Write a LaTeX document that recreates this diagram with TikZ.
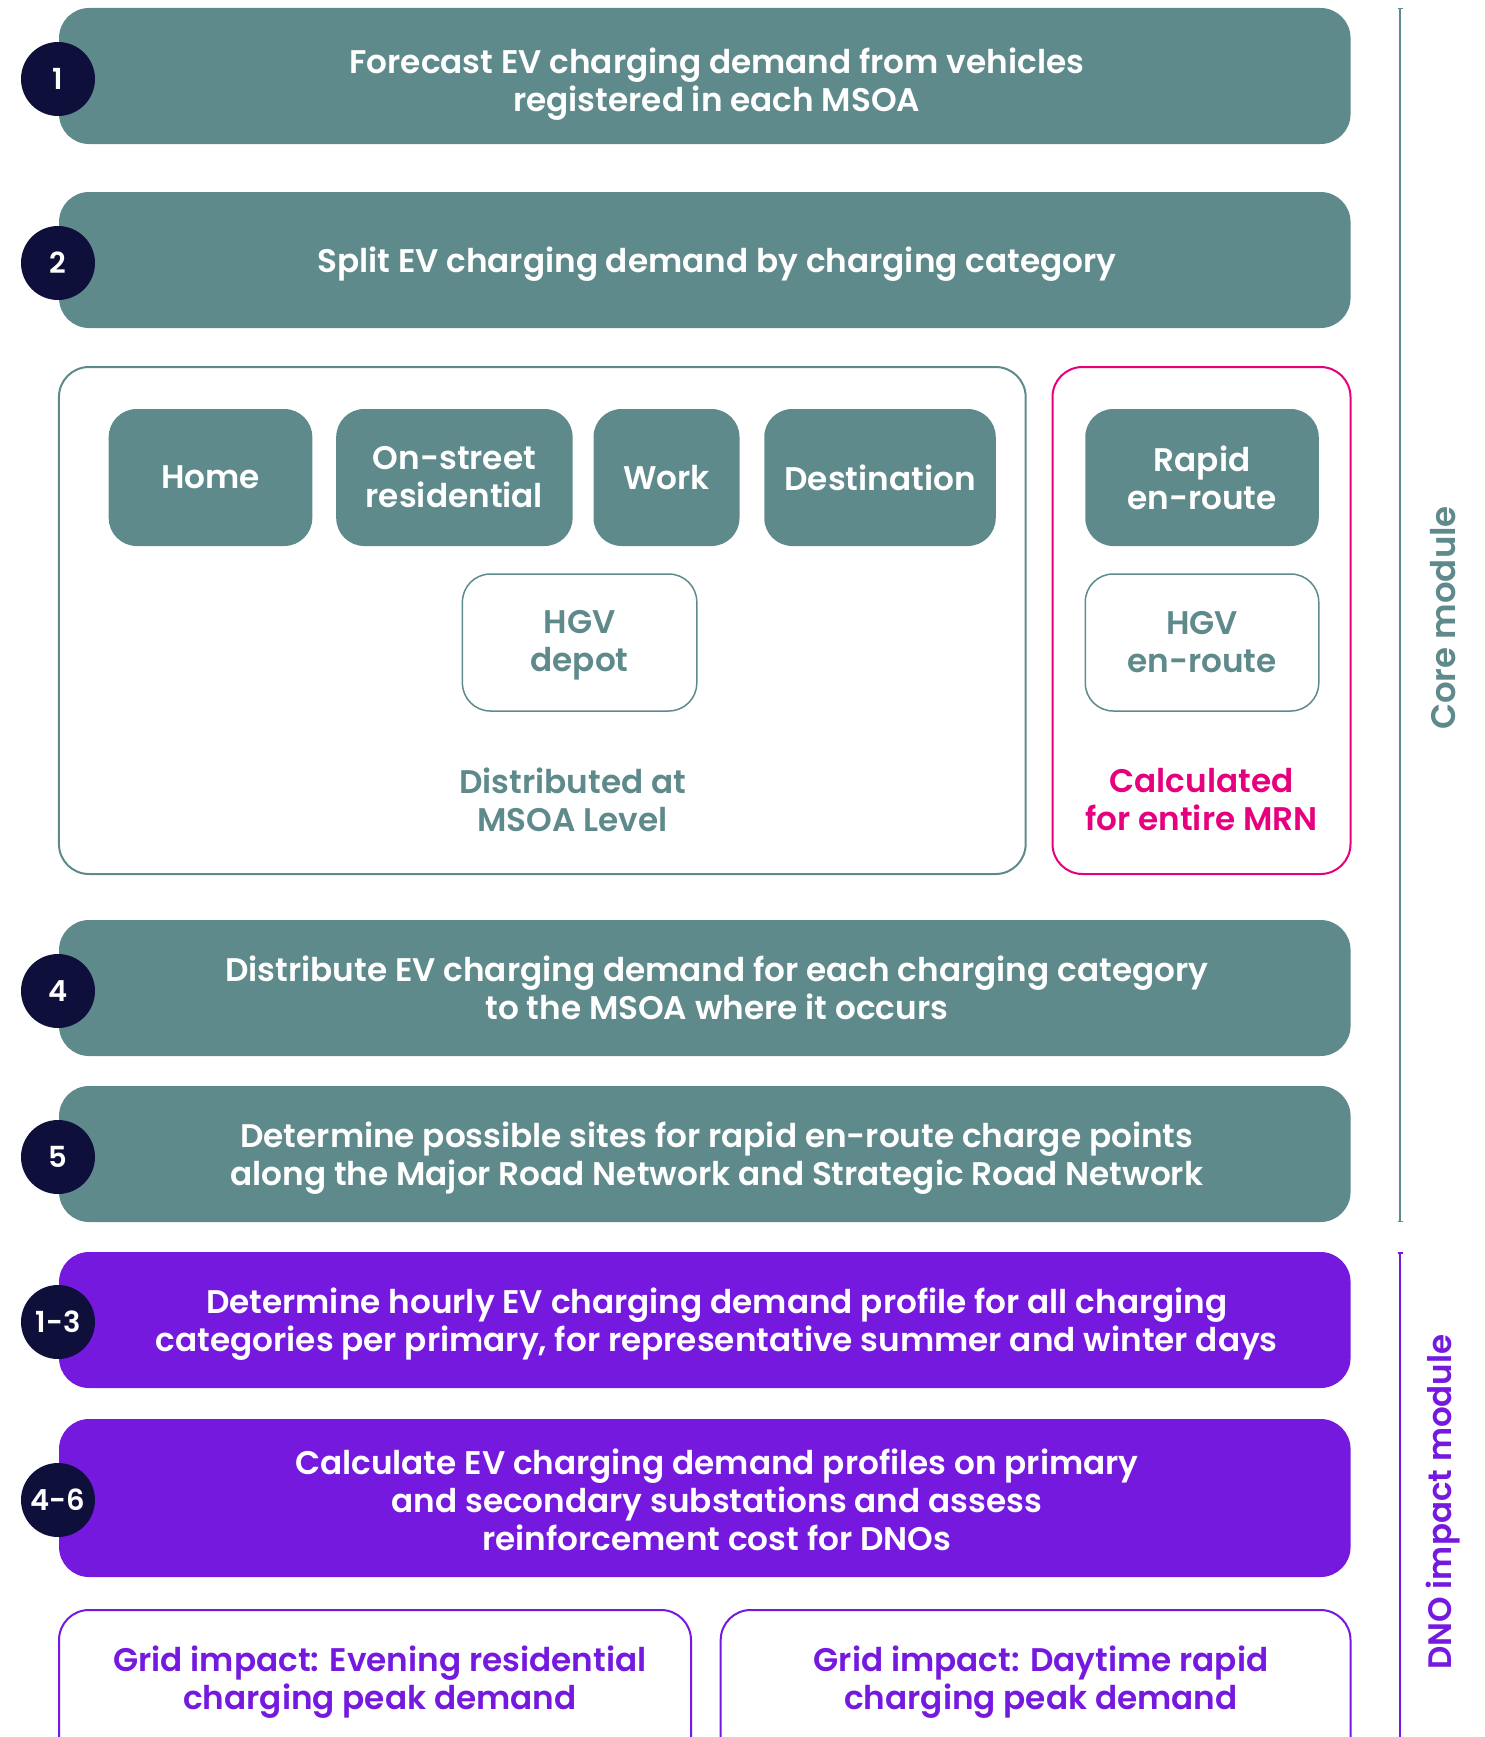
\documentclass[tikz,border=0pt]{standalone}
\usepackage{fontspec}
\usetikzlibrary{arrows.meta}
\IfFontExistsTF{Poppins SemiBold}{\setmainfont{Poppins SemiBold}}{\setmainfont{Poppins}[UprightFont={* Bold}]}
\definecolor{Slate}{HTML}{5F8A8B}
\definecolor{Navy}{HTML}{0F0F3C}
\definecolor{Violet}{HTML}{7519DF}
\definecolor{Pink}{HTML}{E6007E}
\newcommand\txt{\fontsize{32.7}{38}\selectfont}

\begin{document}
\begin{tikzpicture}[
  x=1pt,
  y=-1pt,
  inner sep=0pt,
  stage/.style={fill=Slate, rounded corners=30pt, minimum width=1291.5pt,
    minimum height=136pt},
  stagetext/.style={text=white, align=center, font=\txt},
  badge/.style={circle, fill=Navy, minimum size=74pt, text=white,
    font=\fontsize{29}{29}\selectfont},
  cat/.style={fill=Slate, rounded corners=28pt, minimum height=137pt,
    text=white, align=center, font=\txt},
  hgv/.style={cat, fill=white, draw=Slate, line width=1.5pt, text=Slate},
  frame/.style={draw=Slate, line width=2pt, rounded corners=30pt,
    minimum height=507pt},
  grid/.style={draw=Violet, line width=2pt, rounded corners=30pt,
    minimum height=160pt, anchor=north},
  side/.style={rotate=90, font=\fontsize{34}{34}\selectfont}]
\clip (0,0) rectangle (1484,1737);
% core module
\node[stage] (s1) at (704.8,76) {};
\node[stage] (s2) at (704.8,260) {};
\node[frame, minimum width=966.7pt] (msoa) at (542.3,620.5) {};
\node[frame, minimum width=298pt, draw=Pink] (mrn) at (1201.5,620.5) {};
\node[cat, minimum width=203.6pt] (home) at (210.5,477.5) {Home};
\node[cat, minimum width=236.4pt] (street) at (454.4,477.5) {On-street\\residential};
\node[cat, minimum width=146pt] (work) at (666.5,477.5) {Work};
\node[cat, minimum width=231.5pt] (dest) at (880,477.5) {Destination};
\node[cat, minimum width=233.5pt] (rapid) at (1202,477.5) {Rapid\\en-route};
\node[hgv, minimum width=234.4pt] (depot) at (579.6,642.5) {};
\node[hgv, minimum width=233.5pt] (hgvroute) at (1202,642.5) {};
\node[text=Slate, align=center, font=\txt] at ([yshift=-3pt]depot.center) {HGV\\depot};
\node[text=Slate, align=center, font=\txt] at ([yshift=0pt]hgvroute.center) {HGV\\en-route};
\node[text=Slate, align=center, font=\txt] (msoalbl) at (572.6,800) {Distributed at\\MSOA Level};
\node[text=Pink, align=center, font=\txt] (mrnlbl) at (1201.5,800) {Calculated\\for entire MRN};
\node[stage] (s4) at (704.8,988) {};
\node[stage] (s5) at (704.8,1154) {};
% DNO impact module
\node[stage, fill=Violet] (d13) at (704.8,1320) {};
\node[stage, fill=Violet, minimum height=158pt] (d46) at (704.8,1498) {};
\node[grid, minimum width=632pt] (evening) at (375,1609) {};
\node[grid, minimum width=629.8pt] (daytime) at (1035.6,1609) {};
\node[text=Violet, align=center, font=\txt] at (380,1682) {Grid impact: Evening residential\\charging peak demand};
\node[text=Violet, align=center, font=\txt] at (1041,1682) {Grid impact: Daytime rapid\\charging peak demand};
% texts of the stages
\begin{scope}[every node/.style={stagetext}]
\node at ([xshift=12pt,yshift=-8pt]s1.center) {Forecast EV charging demand from vehicles\\registered in each MSOA};
\node at ([xshift=12pt,yshift=-4pt]s2.center) {Split EV charging demand by charging category};
\node at ([xshift=12pt,yshift=0pt]s4.center) {Distribute EV charging demand for each charging category\\to the MSOA where it occurs};
\node at ([xshift=12pt,yshift=-4pt]s5.center) {Determine possible sites for rapid en-route charge points\\along the Major Road Network and Strategic Road Network};
\node at ([xshift=12pt,yshift=-4pt]d13.center) {Determine hourly EV charging demand profile for all charging\\categories per primary, for representative summer and winter days};
\node at ([xshift=12pt,yshift=-2pt]d46.center) {Calculate EV charging demand profiles on primary\\and secondary substations and assess\\reinforcement cost for DNOs};
\end{scope}
% badges
\foreach \n/\y/\t in {b1/79/1, b2/263/2, b4/991/4, b5/1157/5, b13/1322/1-3, b46/1500/4-6}
  \node[badge] (\n) at (58,\y) {\t};
% side brackets
\coordinate (coretop) at (1400,8);
\coordinate (corebot) at (1400,1222);
\coordinate (dnotop) at (1400,1252);
\coordinate (dnobot) at (1400,1760);
\draw[Slate, line width=1.5pt, {Bar[width=5pt]}-{Bar[width=5pt]}] (coretop) -- (corebot);
\draw[Violet, line width=1.5pt, {Bar[width=5pt]}-] (dnotop) -- (dnobot);
\node[side, text=Slate] (core) at (1443,618) {Core module};
\node[side, text=Violet, font=\fontsize{32.5}{32.5}\selectfont] (dno) at (1443,1502) {DNO impact module};
\end{tikzpicture}
\end{document}
